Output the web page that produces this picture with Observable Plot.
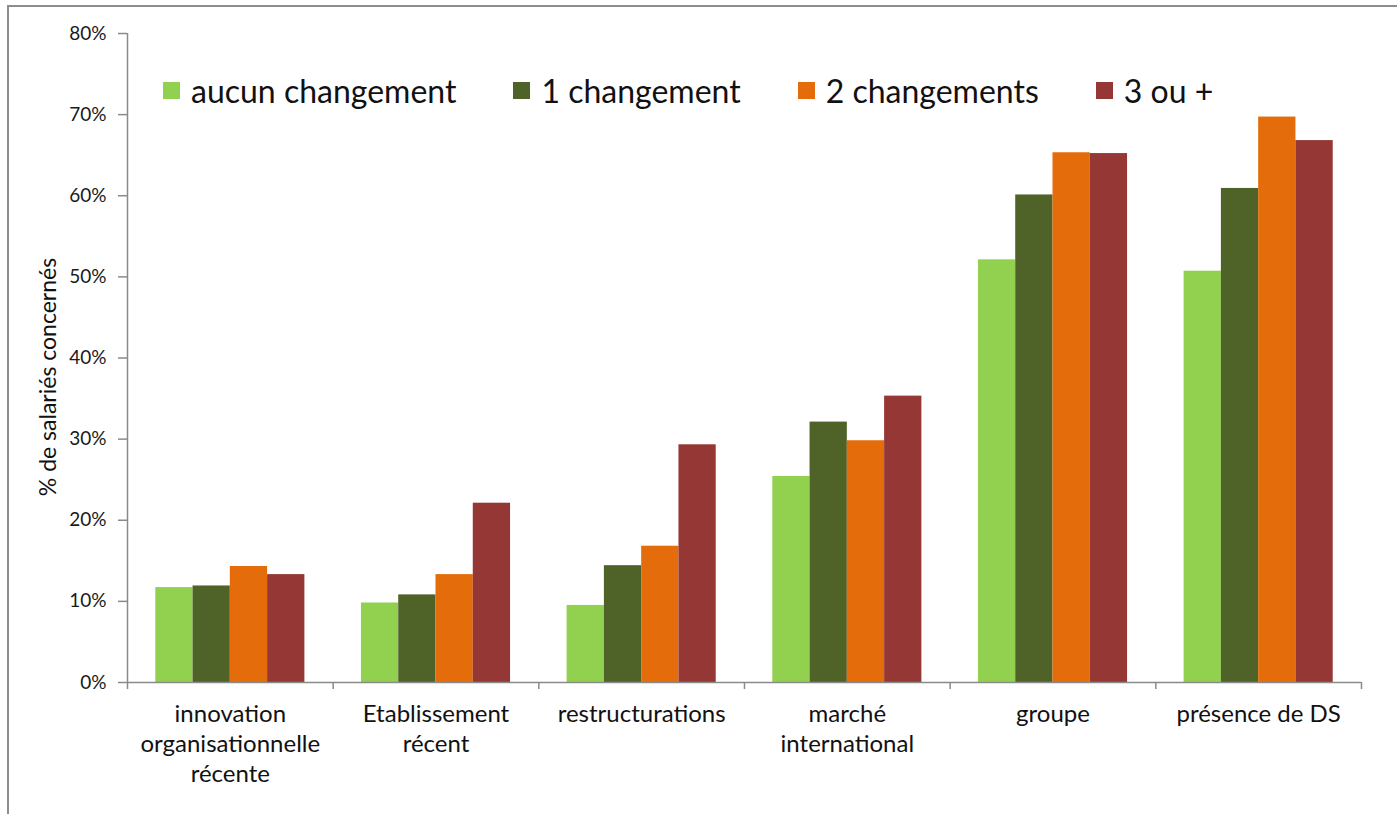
<!DOCTYPE html>
<html><head><meta charset="utf-8">
<script src="https://cdn.jsdelivr.net/npm/d3@7"></script>
<script src="https://cdn.jsdelivr.net/npm/@observablehq/plot@0.6"></script>
<style>
body{margin:0;background:#fff;}
#wrap{position:relative;width:1397px;height:814px;overflow:hidden;font-family:Lato,"Open Sans",sans-serif;background:#fff;}
#frame{position:absolute;left:7px;top:5px;width:1400px;height:820px;border-top:2px solid #8d8d8d;border-left:2px solid #8d8d8d;box-sizing:border-box;}
#chart{position:absolute;left:0;top:0;}
#legend{position:absolute;left:163px;top:73px;height:34px;display:flex;align-items:center;gap:57px;font-size:32px;color:#111;}
#legend .item{display:flex;align-items:center;gap:11px;white-space:nowrap;}
#legend .sw{width:17px;height:17px;display:inline-block;}
#ylabel{position:absolute;left:47px;top:377px;transform:translate(-50%,-50%) rotate(-90deg);font-size:23px;color:#111;white-space:nowrap;}
</style></head>
<body>
<div id="wrap">
  <div id="frame"></div>
  <div id="chart"></div>
  <div id="legend"></div>
  <div id="ylabel"></div>
</div>
<script>
// ---- data ----
const categories = ["innovation\norganisationnelle\nrécente", "Etablissement\nrécent", "restructurations", "marché\ninternational", "groupe", "présence de DS"];
const seriesNames = ["aucun changement", "1 changement", "2 changements", "3 ou +"];
const seriesColors = ["#92D050", "#4F6228", "#E46C0A", "#953735"];
const aucunChangement = [11.7, 9.8, 9.5, 25.4, 52.1, 50.7];
const unChangement    = [11.9, 10.8, 14.4, 32.1, 60.1, 60.9];
const deuxChangements = [14.3, 13.3, 16.8, 29.8, 65.3, 69.7];
const troisOuPlus     = [13.3, 22.1, 29.3, 35.3, 65.2, 66.8];
const yTicks = [0, 10, 20, 30, 40, 50, 60, 70, 80];
const yLabel = "% de salariés concernés";

// ---- build table ----
const seriesValues = [aucunChangement, unChangement, deuxChangements, troisOuPlus];
const groupWidth = 0.725;
const barW = groupWidth / seriesNames.length;
const rows = [];
categories.forEach((c, ci) => {
  seriesNames.forEach((s, si) => {
    rows.push({ci, si, category: c, series: s, value: seriesValues[si][ci]});
  });
});
const boundaries = categories.map((_, i) => i - 0.5).concat([categories.length - 0.5]);

const axisColor = "#8a8a8a";
const plot = Plot.plot({
  width: 1397,
  height: 814,
  marginLeft: 127,
  marginRight: 36,
  marginTop: 33,
  marginBottom: 132,
  style: {fontFamily: "Lato, 'Open Sans', sans-serif", background: "transparent", color: "#111"},
  x: {domain: [-0.5, categories.length - 0.5], axis: null},
  y: {domain: [0, 80], axis: null},
  color: {domain: seriesNames, range: seriesColors},
  marks: [
    Plot.rectY(rows, {
      x1: d => d.ci - groupWidth / 2 + d.si * barW,
      x2: d => d.ci - groupWidth / 2 + (d.si + 1) * barW,
      y: "value",
      fill: "series"
    }),
    Plot.ruleX([-0.5], {stroke: axisColor, strokeWidth: 1.5}),
    Plot.ruleY([0], {stroke: axisColor, strokeWidth: 1.5}),
    Plot.axisY({ticks: yTicks, tickSize: 9, tickPadding: 12, tickFormat: d => d + "%", fontSize: 19, stroke: axisColor, strokeWidth: 1.5, fill: "#1a1a1a", label: null}),
    Plot.axisX({ticks: boundaries, tickSize: 7, tickFormat: () => "", stroke: axisColor, strokeWidth: 1.5, label: null}),
    Plot.axisX({ticks: categories.map((_, i) => i), tickSize: 0, tickPadding: 18, tickFormat: i => categories[i], fontSize: 24, lineHeight: 1.25, fill: "#111", label: null})
  ]
});
document.getElementById("chart").appendChild(plot);

// legend
const legend = document.getElementById("legend");
seriesNames.forEach((s, i) => {
  const item = document.createElement("div");
  item.className = "item";
  const sw = document.createElement("span");
  sw.className = "sw";
  sw.style.background = seriesColors[i];
  const t = document.createElement("span");
  t.textContent = s;
  item.appendChild(sw); item.appendChild(t);
  legend.appendChild(item);
});
document.getElementById("ylabel").textContent = yLabel;
</script>
</body></html>
